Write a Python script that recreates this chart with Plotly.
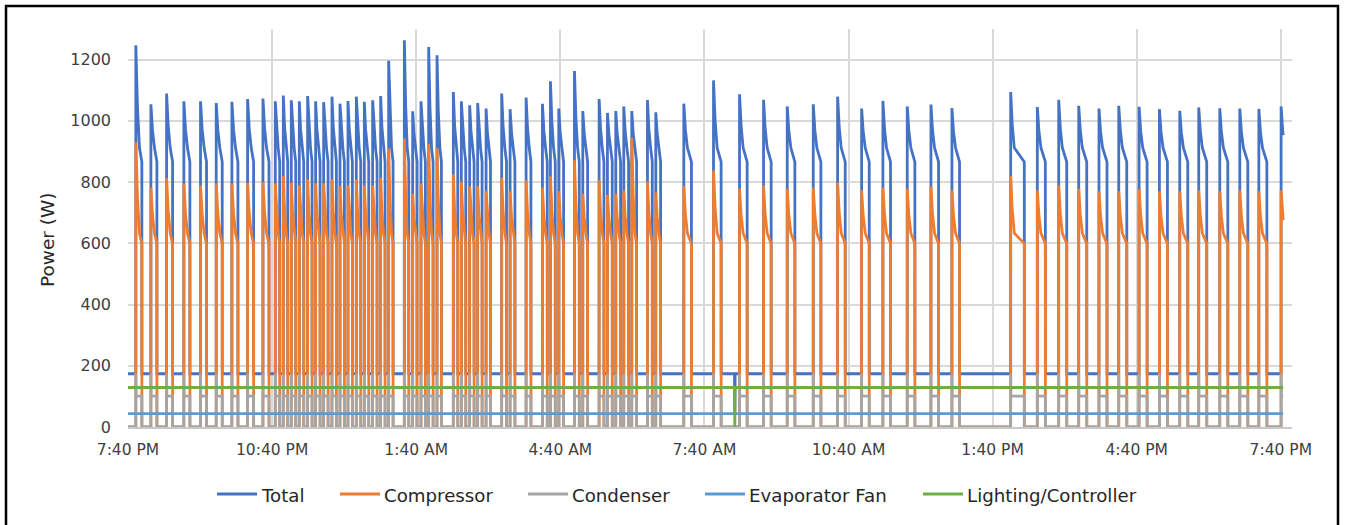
import numpy as np
import plotly.graph_objects as go

# ---------------- data ----------------
# minutes after 7:40 PM at which each compressor cycle starts
CYCLE_START_MIN = [
    9.8, 28.6, 48.2, 69.8, 90.6, 110.2, 129.8, 149.4, 168.6,
    184.0, 194.0, 204.0, 214.0, 224.4, 234.4, 244.4, 254.8, 264.8, 274.8, 285.2, 295.2, 305.6, 315.6, 325.6,
    345.2, 355.6, 366.0, 375.6, 386.0, 406.4, 416.4, 426.8, 436.8, 447.3,
    466.8, 477.3, 497.3, 517.7, 527.7, 538.1, 557.7, 568.1, 588.5, 598.9, 609.3, 619.3, 629.3, 648.9, 659.3,
    694.3, 731.4, 763.9, 793.9, 823.5, 856.0, 886.4, 916.4, 943.0, 973.4, 1003.0, 1029.2,
    1102.6, 1135.9, 1162.6, 1187.6, 1212.9, 1237.6, 1263.0, 1288.4, 1313.8, 1337.5, 1363.8, 1388.8, 1412.6, 1440.4,
]
# length of each compressor cycle (minutes)
CYCLE_LEN_MIN = (
    [7.5] * 9 + [5.5] * 15 + [5.5] * 10 + [6.0] * 15 + [9.5] * 12 + [17.0] + [10.0] * 13
)
# peak of the Total curve at the start of each cycle (W)
TOTAL_PEAK_W = [
    1247, 1054, 1089, 1064, 1064, 1058, 1062, 1071, 1073,
    1064, 1083, 1067, 1064, 1081, 1064, 1061, 1079, 1056, 1065, 1079, 1062, 1067, 1081, 1196,
    1263, 1031, 1064, 1241, 1214, 1094, 1064, 1051, 1058, 1040,
    1089, 1038, 1076, 1056, 1129, 1040, 1163, 1032, 1071, 1026, 1032, 1047, 1032, 1068, 1028,
    1056, 1132, 1087, 1069, 1047, 1054, 1079, 1040, 1065, 1047, 1053, 1042,
    1094, 1045, 1069, 1049, 1040, 1049, 1046, 1038, 1033, 1044, 1041, 1040, 1039, 1047,
]
# peak of the Compressor curve at the start of each cycle (W)
COMP_PEAK_W = [
    929, 782, 813, 795, 789, 795, 795, 798, 800,
    795, 820, 798, 789, 809, 795, 795, 809, 787, 790, 809, 789, 789, 814, 910,
    942, 762, 795, 925, 911, 825, 802, 786, 786, 770,
    814, 770, 805, 782, 819, 770, 871, 762, 806, 758, 762, 773, 945, 801, 766,
    787, 838, 778, 789, 778, 782, 798, 773, 782, 778, 786, 773,
    820, 773, 789, 778, 770, 770, 777, 770, 770, 773, 770, 773, 770, 773,
]
# typical levels inside a running cycle (W) and time of the knee (min)
TOTAL_LEVELS_W = {"off": 174, "knee": 912, "end": 866}
COMP_LEVELS_W = {"off": 0, "knee": 633, "end": 599}
COND_LEVELS_W = {"off": 0, "spike": 174, "run": 101}
KNEE_AFTER_MIN = 4.5
EVAP_FAN_W = 44
LIGHTING_W = 129
# short drop-out of the lighting/controller circuit
DROPOUT_MIN = [758.0]
DATA_END_MIN = 1443.0

TICK_MIN = [0, 180, 360, 540, 720, 900, 1080, 1260, 1440]
TICK_LABELS = ["7:40 PM", "10:40 PM", "1:40 AM", "4:40 AM", "7:40 AM",
               "10:40 AM", "1:40 PM", "4:40 PM", "7:40 PM"]
Y_TICKS = [0, 200, 400, 600, 800, 1000, 1200]

SERIES_NAMES = ["Total", "Compressor", "Condenser", "Evaporator Fan", "Lighting/Controller"]
COLORS = ["#4472C4", "#ED7D31", "#A5A5A5", "#5B9BD5", "#70AD47"]

# ---------------- build the series ----------------
def finish(t, v, end):
    t = np.asarray(t, float)
    v = np.asarray(v, float)
    o = np.argsort(t, kind="stable")
    t, v = t[o], v[o]
    ve = np.interp(end, t, v)
    m = t < end
    return np.append(t[m], end), np.append(v[m], ve)

eps = 0.05
tot_t, tot_v = [0.0], [TOTAL_LEVELS_W["off"]]
cmp_t, cmp_v = [0.0], [0.0]
cnd_t, cnd_v = [0.0], [0.0]
for s, d, tp, cp in zip(CYCLE_START_MIN, CYCLE_LEN_MIN, TOTAL_PEAK_W, COMP_PEAK_W):
    k = min(KNEE_AFTER_MIN, 0.65 * d)
    tk, te, toff = TOTAL_LEVELS_W["knee"], TOTAL_LEVELS_W["end"], TOTAL_LEVELS_W["off"]
    ck, ce = COMP_LEVELS_W["knee"], COMP_LEVELS_W["end"]
    tot_t += [s - eps, s, s + 0.45 * k, s + k, s + d, s + d + eps]
    tot_v += [toff, tp, tp - 0.6 * (tp - tk), tk, te, toff]
    cmp_t += [s - eps, s, s + 0.45 * k, s + k, s + d, s + d + eps]
    cmp_v += [0, cp, cp - 0.6 * (cp - ck), ck, ce, 0]
    cnd_t += [s - eps, s, s + 0.3, s + d, s + d + eps]
    cnd_v += [0, COND_LEVELS_W["spike"], COND_LEVELS_W["run"], COND_LEVELS_W["run"], 0]

lit_t, lit_v = [0.0, DATA_END_MIN], [LIGHTING_W, LIGHTING_W]
for m in DROPOUT_MIN:
    lit_t += [m - 0.4, m, m + 0.4]
    lit_v += [LIGHTING_W, 0, LIGHTING_W]
    tot_t += [m - 0.4, m, m + 0.4]
    tot_v += [TOTAL_LEVELS_W["off"], EVAP_FAN_W, TOTAL_LEVELS_W["off"]]

fan_t, fan_v = [0.0, DATA_END_MIN], [EVAP_FAN_W, EVAP_FAN_W]

series = [
    finish(tot_t, tot_v, DATA_END_MIN),
    finish(cmp_t, cmp_v, DATA_END_MIN),
    finish(cnd_t, cnd_v, DATA_END_MIN),
    finish(fan_t, fan_v, DATA_END_MIN),
    finish(lit_t, lit_v, DATA_END_MIN),
]

# ---------------- figure ----------------
W, H = 1348, 525
ML, MR, MT, MB = 128, 56, 29, 98
PW, PH = W - ML - MR, H - MT - MB


def px(xp):
    return (xp - ML) / PW


def py(yp):
    return (H - MB - yp) / PH


fig = go.Figure()
for name, (t, v), col in zip(SERIES_NAMES, series, COLORS):
    fig.add_trace(go.Scatter(x=t, y=v, mode="lines", name=name, showlegend=False,
                             line=dict(color=col, width=2.8)))

FONT = "DejaVu Sans"
TEXT_COL = "#262626"

# legend drawn as line samples + text labels (positions of each entry in pixels)
LEG_LINE_X = [217, 340, 528, 705, 923]
LEG_Y = 494
shapes = [dict(type="rect", xref="paper", yref="paper",
               x0=px(6), x1=px(1338), y0=py(535), y1=py(6),
               line=dict(color="black", width=2.5), fillcolor="rgba(0,0,0,0)")]
annotations = [dict(text="Power (W)", textangle=-90, xref="paper", yref="paper",
                    x=px(47), y=py(240), xanchor="center", yanchor="middle",
                    showarrow=False, font=dict(size=18.5, color=TEXT_COL))]
for name, col, lx in zip(SERIES_NAMES, COLORS, LEG_LINE_X):
    shapes.append(dict(type="line", xref="paper", yref="paper",
                       x0=px(lx), x1=px(lx + 40), y0=py(LEG_Y), y1=py(LEG_Y),
                       line=dict(color=col, width=3)))
    annotations.append(dict(text=name, xref="paper", yref="paper",
                            x=px(lx + 42), y=py(LEG_Y + 1), xanchor="left", yanchor="middle",
                            showarrow=False, font=dict(size=18.2, color=TEXT_COL)))

fig.update_layout(
    width=W, height=H, autosize=False,
    margin=dict(l=ML, r=MR, t=MT, b=MB, pad=0),
    paper_bgcolor="white", plot_bgcolor="white",
    font=dict(family=FONT, size=15, color="#404040"),
    showlegend=False,
    xaxis=dict(range=[0, 1454], tickmode="array", tickvals=TICK_MIN, ticktext=TICK_LABELS,
               showgrid=True, gridcolor="#D9D9D9", gridwidth=1.5, zeroline=False,
               showline=True, linecolor="#C8C8C8", linewidth=1.5, ticks="",
               ticklabelstandoff=8, tickfont=dict(size=15.5)),
    yaxis=dict(range=[0, 1300], tickmode="array", tickvals=Y_TICKS,
               showgrid=True, gridcolor="#D9D9D9", gridwidth=1.5, zeroline=False,
               showline=False, ticks="", ticklabelstandoff=16, tickfont=dict(size=16)),
    annotations=annotations,
    shapes=shapes,
)

fig.write_html("out.html")
